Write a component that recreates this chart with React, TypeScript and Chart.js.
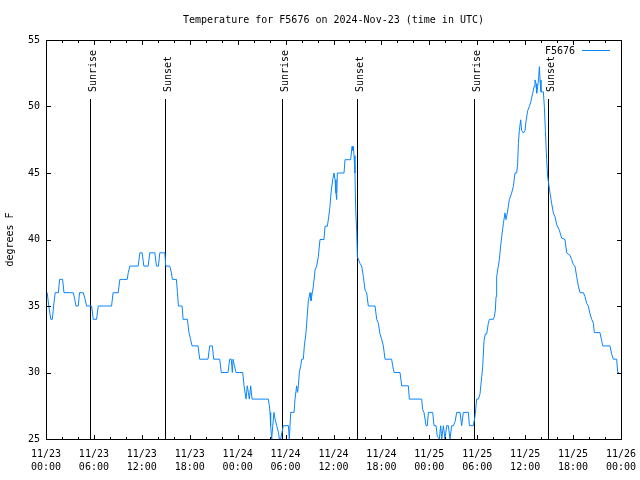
import React, { useEffect, useRef } from 'react';
import { Chart, registerables } from 'chart.js';

Chart.register(...registerables);

// ---- data (hours since 2024-11-23 00:00 UTC, temperature in °F) ----
const hours = [
  0.0, 0.15, 0.35, 0.6, 0.8, 0.95, 1.15, 1.55, 1.7, 2.08, 2.25, 3.42, 3.6, 3.75, 4.04, 4.2, 4.67, 4.9, 5.08, 5.71,
  5.92, 6.33, 6.54, 8.21, 8.4, 9.04, 9.25, 10.17, 10.3, 10.5, 11.54, 11.75, 12.04, 12.25, 12.79, 13.0, 13.63, 13.83, 14.08, 14.25,
  14.88, 15.0, 15.5, 15.7, 15.83, 16.33, 16.46, 16.58, 17.04, 17.17, 17.71, 17.9, 18.1, 18.29, 19.04, 19.25, 20.29, 20.5, 20.83, 21.0,
  21.75, 21.95, 22.79, 23.0, 23.2, 23.33, 23.42, 23.6, 23.79, 24.63,
  24.8, 25.05, 25.2, 25.34, 25.46, 25.63, 25.8, 27.84, 27.97, 28.05, 28.13, 28.26, 28.38, 28.55, 28.68, 28.89, 29.1, 29.22, 29.39, 29.55,
  29.72, 30.35, 30.47, 30.64, 31.06, 31.18, 31.39, 31.5, 31.6, 31.72, 31.9, 32.02, 32.22, 32.35, 32.56, 32.73, 32.85, 33.06, 33.18, 33.35,
  33.48, 33.69, 33.89, 34.1, 34.31, 34.81, 34.94, 35.23, 35.4, 35.56, 35.69, 35.9, 36.06, 36.19, 36.31, 36.4, 36.48, 37.32, 37.44, 38.15,
  38.32, 38.4, 38.48, 38.57, 38.69, 38.78, 38.9, 38.99, 39.32, 39.53, 39.74, 39.95, 40.15, 40.36, 41.2, 41.41, 41.62, 41.82, 42.03, 42.24,
  42.45, 43.28, 43.41, 43.58, 44.33, 44.54, 45.37, 45.5, 47.04,
  47.17, 47.33, 47.59, 47.75, 47.88, 48.42, 48.59, 48.84, 49.0, 49.25, 49.42, 49.55, 49.76, 49.96, 50.17, 50.38, 50.59, 50.8, 51.01, 51.22,
  51.43, 51.84, 52.05, 52.26, 52.89, 53.01, 53.51, 53.72, 53.93, 54.14, 54.35, 54.56, 54.68, 54.85, 55.01, 55.18, 55.39, 55.52, 56.02, 56.14,
  56.27, 56.35, 56.43, 56.64, 56.77, 56.93, 57.06, 57.27, 57.48, 57.6, 57.77, 57.89, 58.02, 58.31, 58.52, 58.73, 58.94, 59.06, 59.15, 59.27,
  59.44, 59.56, 59.77, 59.98, 60.11, 60.32, 60.52, 60.73, 60.94, 61.11, 61.23, 61.36, 61.44, 61.57, 61.69, 61.78, 61.86, 61.98, 62.28, 62.4,
  62.53, 62.69, 62.82, 62.94, 63.11, 63.32, 63.53, 63.74, 63.95, 64.28, 64.57, 64.99, 65.2, 65.62, 65.82, 66.03, 66.24, 66.45, 66.66, 66.87,
  67.29, 67.5, 67.7, 67.91, 68.12, 68.33, 68.54, 68.66, 69.37, 69.58, 69.71, 70.62, 70.83, 71.04, 71.46, 71.58, 71.75,
];
const temps = [
  36, 36, 35, 34, 34, 35, 36, 36, 37, 37, 36, 36, 35.5, 35, 35, 36, 36, 35.5, 35, 35,
  34, 34, 35, 35, 36, 36, 37, 37, 37.5, 38, 38, 39, 39, 38, 38, 39, 39, 38, 38, 39,
  39, 38, 38, 37.5, 37, 37, 36, 35, 35, 34, 34, 33, 32.5, 32, 32, 31, 31, 32, 32, 31,
  31, 30, 30, 31, 31, 30, 31, 30.5, 30, 30,
  29, 28, 29, 28.5, 28, 29, 28, 28, 27.5, 27, 26, 25, 25.9, 27, 26.5, 26, 25.5, 25, 25, 25.5,
  26, 26, 25, 27, 27, 28, 29, 28.5, 29, 30, 30.5, 31, 31, 32, 33, 34.4, 35.4, 36, 35.4, 36,
  36.5, 37.7, 38, 38.7, 40, 40, 41, 41, 41.7, 42.5, 43.5, 44.5, 45, 44.5, 43.5, 43, 45, 45, 46, 46,
  47, 46.7, 47, 46.3, 45, 42.2, 40.7, 38.7, 38.2, 38, 37.2, 36.2, 36, 35, 35, 34, 33.7, 32.9, 32.5, 32,
  31, 31, 30.5, 30, 30, 29, 29, 28, 28,
  27.2, 27, 26, 26, 27, 27, 26, 26, 25.2, 25, 26, 25, 26, 25, 26, 26, 25, 26, 26, 26.3,
  27, 27, 26, 27, 27, 26, 26, 26.7, 28, 28, 28.4, 29.7, 30.4, 32.4, 32.9, 32.9, 33.7, 34, 34, 34.2,
  34.7, 35.7, 37.2, 38, 38.5, 39.5, 40.2, 41.2, 42, 41.5, 42, 42.5, 43, 43.5, 44, 45, 45, 45.7, 47.2, 48.2,
  49, 48.2, 48, 48.2, 48.9, 49.7, 50, 50.4, 51, 51.5, 52, 51.7, 51, 51.5, 52.2, 53, 52, 51.1, 51.1, 50,
  48.2, 46, 44.7, 44.2, 43.5, 42.7, 42, 41.7, 41.1, 40.7, 40.1, 40, 39, 38.8, 38.5, 38.1, 38, 37.2, 36.5, 36,
  36, 35.7, 35.2, 35, 34.4, 34, 33.7, 33, 33, 32.4, 32, 32, 31.4, 31, 31, 30, 30,
];
const sunriseHours = [5.52, 29.55, 53.59];
const sunsetHours = [14.9, 38.94, 62.86];
const xTickDates = ['11/23', '11/23', '11/23', '11/23', '11/24', '11/24', '11/24', '11/24', '11/25', '11/25', '11/25', '11/25', '11/26'];
const xTickTimes = ['00:00', '06:00', '12:00', '18:00', '00:00', '06:00', '12:00', '18:00', '00:00', '06:00', '12:00', '18:00', '00:00'];
const seriesName = 'F5676';
const titleText = 'Temperature for F5676 on 2024-Nov-23 (time in UTC)';
const yAxisTitle = 'degrees F';

const FONT_FAMILY = "'DejaVu Sans Mono', monospace";
const FONT = `10px ${FONT_FAMILY}`;
const LINE_COLOR = '#0a84ff';

const decor = {
  id: 'decor',
  beforeDatasetsDraw(chart: any) {
    const { ctx, chartArea, scales } = chart;
    const x = scales.x;
    ctx.save();
    ctx.strokeStyle = '#000';
    ctx.fillStyle = '#000';
    ctx.lineWidth = 1;
    ctx.font = FONT;
    const marks: [number, string][] = [
      ...sunriseHours.map((h) => [h, 'Sunrise'] as [number, string]),
      ...sunsetHours.map((h) => [h, 'Sunset'] as [number, string]),
    ];
    for (const [h, label] of marks) {
      const px = Math.round(x.getPixelForValue(h)) + 0.5;
      ctx.beginPath();
      ctx.moveTo(px, chartArea.top + 59);
      ctx.lineTo(px, chartArea.bottom);
      ctx.stroke();
      ctx.save();
      ctx.translate(px + 5, chartArea.top + 52);
      ctx.rotate(-Math.PI / 2);
      ctx.textAlign = 'left';
      ctx.textBaseline = 'alphabetic';
      ctx.fillText(label, 0, 0);
      ctx.restore();
    }
    ctx.restore();
  },
  afterDraw(chart: any) {
    const { ctx, chartArea, scales } = chart;
    const { left, right, top, bottom } = chartArea;
    const x = scales.x;
    const y = scales.y;
    ctx.save();
    ctx.strokeStyle = '#000';
    ctx.fillStyle = '#000';
    ctx.lineWidth = 1;
    // frame
    ctx.strokeRect(left + 0.5, top + 0.5, right - left, bottom - top);
    // x ticks (inward, mirrored), every 2 hours, major every 6
    ctx.beginPath();
    for (let h = 0; h <= 72; h += 2) {
      const px = Math.round(x.getPixelForValue(h)) + 0.5;
      const len = h % 6 === 0 ? 4 : 2;
      ctx.moveTo(px, bottom);
      ctx.lineTo(px, bottom - len);
      ctx.moveTo(px, top + 1);
      ctx.lineTo(px, top + 1 + len);
    }
    // y ticks
    for (let v = 25; v <= 55; v += 5) {
      const py = Math.round(y.getPixelForValue(v)) + 0.5;
      ctx.moveTo(left, py);
      ctx.lineTo(left + 5, py);
      ctx.moveTo(right + 1, py);
      ctx.lineTo(right - 4, py);
    }
    ctx.stroke();
    // title
    ctx.font = FONT;
    ctx.textAlign = 'center';
    ctx.textBaseline = 'alphabetic';
    ctx.fillText(titleText, (left + right) / 2, 23);
    // y axis title
    ctx.save();
    ctx.translate(13, (top + bottom) / 2);
    ctx.rotate(-Math.PI / 2);
    ctx.textAlign = 'center';
    ctx.fillText(yAxisTitle, 0, 0);
    ctx.restore();
    // legend
    ctx.textAlign = 'right';
    ctx.fillText(seriesName, right - 46, top + 14);
    ctx.strokeStyle = LINE_COLOR;
    ctx.beginPath();
    ctx.moveTo(right - 39, top + 10.5);
    ctx.lineTo(right - 11, top + 10.5);
    ctx.stroke();
    ctx.restore();
  },
};

export default function App() {
  const ref = useRef<HTMLCanvasElement>(null);
  useEffect(() => {
    const points = hours.map((h, i) => ({ x: h, y: temps[i] }));
    const chart = new Chart(ref.current as HTMLCanvasElement, {
      type: 'line',
      data: {
        datasets: [
          {
            label: seriesName,
            data: points,
            borderColor: LINE_COLOR,
            borderWidth: 1,
            pointRadius: 0,
            tension: 0,
            fill: false,
          },
        ],
      },
      options: {
        animation: false,
        responsive: false,
        events: [],
        layout: { padding: { top: 40, right: 19, left: 0, bottom: 0 } },
        plugins: { legend: { display: false }, title: { display: false }, tooltip: { enabled: false } },
        scales: {
          x: {
            type: 'linear',
            min: 0,
            max: 72,
            grid: { display: false, drawTicks: false },
            border: { display: false },
            afterFit: (s: any) => {
              s.height = 41;
              s.paddingLeft = 0;
              s.paddingRight = 0;
            },
            ticks: {
              stepSize: 6,
              autoSkip: false,
              maxRotation: 0,
              minRotation: 0,
              padding: 9,
              color: '#000',
              font: { family: FONT_FAMILY, size: 10, lineHeight: 1.3 },
              callback: (value: any) => {
                const i = Math.round(Number(value) / 6);
                return [xTickDates[i], xTickTimes[i]];
              },
            },
          },
          y: {
            type: 'linear',
            min: 25,
            max: 55,
            grid: { display: false, drawTicks: false },
            border: { display: false },
            afterFit: (s: any) => {
              s.width = 46;
              s.paddingTop = 0;
              s.paddingBottom = 0;
            },
            ticks: {
              stepSize: 5,
              padding: 6,
              color: '#000',
              font: { family: FONT_FAMILY, size: 10 },
            },
          },
        },
      },
      plugins: [decor],
    });
    return () => chart.destroy();
  }, []);
  return (
    <div style={{ position: 'absolute', left: 0, top: 0, width: 640, height: 480, background: '#fff' }}>
      <canvas ref={ref} width={640} height={480} style={{ display: 'block' }} />
    </div>
  );
}
